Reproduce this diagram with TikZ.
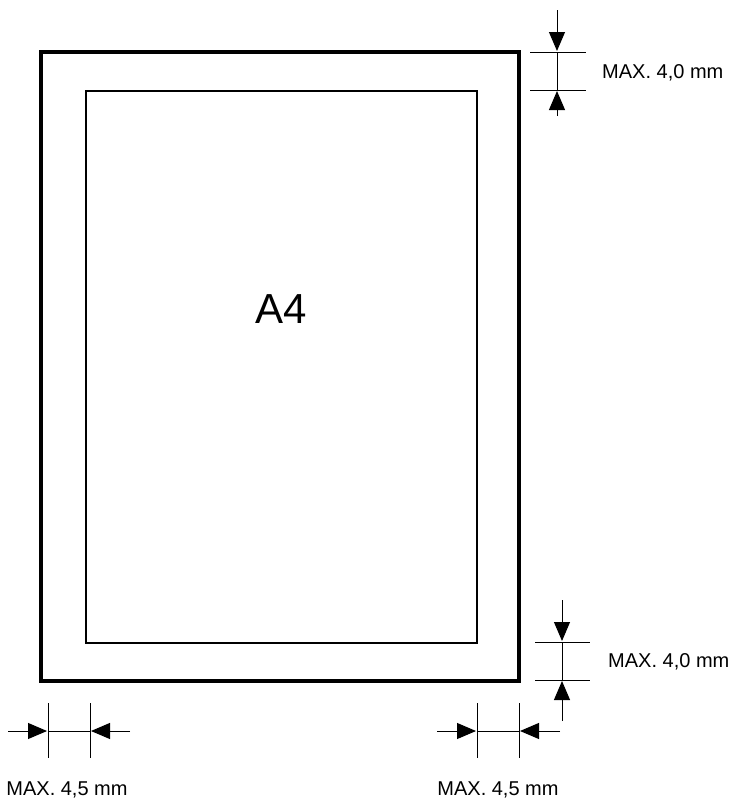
\documentclass[tikz,border=0pt]{standalone}
\usepackage{fontspec}
\setmainfont{Liberation Sans}
\usetikzlibrary{arrows.meta}
\tikzset{
  sheet/.style={line width=3.2pt},
  margin/.style={line width=1.5pt},
  dimline/.style={line width=1pt},
  dimarrow/.style={line width=1pt,-{Triangle[length=19pt,width=16pt]}},
  dimlabel/.style={font=\fontsize{20}{24}\selectfont, inner sep=0pt}
}
\begin{document}
\begin{tikzpicture}[x=1pt,y=-1pt]
      \useasboundingbox (0,0) rectangle (737,806);
      \draw[sheet] (41,52) rectangle (519,681);
      \draw[margin] (86,91) rectangle (477,643);
      \node[font=\fontsize{42}{50}\selectfont] (a4) at (281,309) {A4};
      % top edge
      \coordinate (t1) at (530,52);  \coordinate (t2) at (586,52);
      \coordinate (t3) at (530,90);  \coordinate (t4) at (586,90);
      \coordinate (ta) at (557,10);  \coordinate (tb) at (557,51);
      \coordinate (tc) at (557,116); \coordinate (td) at (557,91);
      \coordinate (te) at (557,52);  \coordinate (tf) at (557,90);
      \node[dimlabel, anchor=west] (toplabel) at (602,73) {MAX. 4,0 mm};
      % bottom edge
      \coordinate (b1) at (535,642); \coordinate (b2) at (590,642);
      \coordinate (b3) at (535,680); \coordinate (b4) at (590,680);
      \coordinate (ba) at (562,600); \coordinate (bb) at (562,641);
      \coordinate (bc) at (562,721); \coordinate (bd) at (562,681);
      \coordinate (be) at (562,642); \coordinate (bf) at (562,680);
      \node[dimlabel, anchor=west] (botlabel) at (608,662) {MAX. 4,0 mm};
      % left edge
      \coordinate (l1) at (48,703);  \coordinate (l2) at (48,758);
      \coordinate (l3) at (90,703);  \coordinate (l4) at (90,758);
      \coordinate (la) at (8,731);   \coordinate (lb) at (47,731);
      \coordinate (lc) at (130,731); \coordinate (ld) at (91,731);
      \coordinate (le) at (48,731);  \coordinate (lf) at (90,731);
      \node[dimlabel] (leftlabel) at (67,790) {MAX. 4,5 mm};
      % right edge
      \coordinate (r1) at (477,703); \coordinate (r2) at (477,758);
      \coordinate (r3) at (519,703); \coordinate (r4) at (519,758);
      \coordinate (ra) at (437,731); \coordinate (rb) at (476,731);
      \coordinate (rc) at (560,731); \coordinate (rd) at (520,731);
      \coordinate (re) at (477,731); \coordinate (rf) at (519,731);
      \node[dimlabel] (rightlabel) at (498,790) {MAX. 4,5 mm};
      \begin{scope}[dimline]
        \draw (t1) -- (t2);
        \draw (t3) -- (t4);
        \draw (te) -- (tf);
        \draw (b1) -- (b2);
        \draw (b3) -- (b4);
        \draw (be) -- (bf);
        \draw (l1) -- (l2);
        \draw (l3) -- (l4);
        \draw (le) -- (lf);
        \draw (r1) -- (r2);
        \draw (r3) -- (r4);
        \draw (re) -- (rf);
      \end{scope}
      \begin{scope}[dimarrow]
        \draw (ta) -- (tb);
        \draw (tc) -- (td);
        \draw (ba) -- (bb);
        \draw (bc) -- (bd);
        \draw (la) -- (lb);
        \draw (lc) -- (ld);
        \draw (ra) -- (rb);
        \draw (rc) -- (rd);
      \end{scope}
    \end{tikzpicture}
\end{document}
